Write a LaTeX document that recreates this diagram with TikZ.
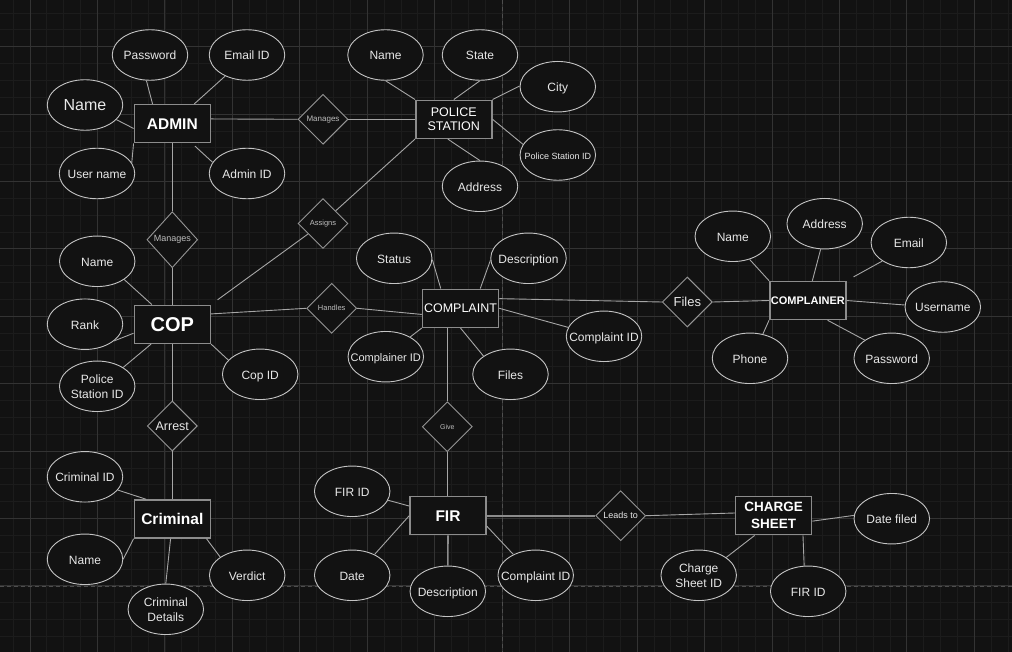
\documentclass[tikz,border=0pt]{standalone}
\usepackage{fontspec}
\setmainfont{Liberation Sans}
\usetikzlibrary{shapes.geometric}

\definecolor{bg}{HTML}{121212}
\definecolor{gridminor}{HTML}{1C1C1C}
\definecolor{gridmajor}{HTML}{333333}
\definecolor{pageline}{HTML}{4E4E4E}
\definecolor{ellstroke}{HTML}{C4C4C4}
\definecolor{entstroke}{HTML}{8C8C8C}
\definecolor{relstroke}{HTML}{959595}
\definecolor{linkc}{HTML}{A6A6A6}
\definecolor{txt}{HTML}{E8E8E8}
\definecolor{reltxt}{HTML}{BDBDBD}

\newcommand{\fs}[2]{\fontsize{#1}{#2}\selectfont}
% zero-width label so the ellipse keeps its fixed size
\newcommand{\zw}[1]{\makebox[0pt]{\raisebox{-2pt}[\height][\depth]{\begin{tabular}{@{}c@{}}#1\end{tabular}}}}

\tikzset{
  attr/.style={ellipse, draw=ellstroke, line width=0.9pt, fill=bg, text=txt,
    minimum width=75.5pt, minimum height=50.5pt, inner sep=0pt,
    font=\fs{12}{14.6}},
  entity/.style={rectangle, draw=entstroke, line width=1.5pt, fill=bg, text=white,
    minimum width=76pt, minimum height=38pt, inner sep=0pt, align=center},
  rel/.style={diamond, draw=relstroke, line width=0.9pt, fill=bg, text=reltxt,
    minimum width=50pt, minimum height=50pt, inner sep=0pt},
  link/.style={draw=linkc, line width=0.9pt},
  heavylink/.style={draw=entstroke, line width=1.6pt},
}

\begin{document}
\begin{tikzpicture}[x=1pt, y=-1pt]
\useasboundingbox (0,0) rectangle (1012,652);
\fill[bg] (0,0) rectangle (1012,652);

% background grid
\begin{scope}
  \clip (0,0) rectangle (1012,652);
  \foreach \k in {-1,...,58}
    \draw[gridminor, line width=0.8pt] ({30+16.8625*\k},0) -- ({30+16.8625*\k},652);
  \foreach \k in {-2,...,35}
    \draw[gridminor, line width=0.8pt] (0,{46.7+16.85*\k}) -- (1012,{46.7+16.85*\k});
  \foreach \k in {0,...,14}
    \draw[gridmajor, line width=0.9pt] ({30+67.45*\k},0) -- ({30+67.45*\k},652);
  \foreach \k in {0,...,9}
    \draw[gridmajor, line width=0.9pt] (0,{46.7+67.4*\k}) -- (1012,{46.7+67.4*\k});
  % page breaks
  \draw[pageline, line width=1pt, dash pattern=on 4pt off 3pt] (502.2,0) -- (502.2,652);
  \draw[pageline, line width=1pt, dash pattern=on 4pt off 3pt] (0,586.3) -- (1012,586.3);
\end{scope}

% ---------- ADMIN ----------
\node[entity, font=\fs{15.5}{18}\bfseries] (admin) at (172.3,123.7) {ADMIN};
\node[attr] (pw) at (150,55) {\zw{Password}};
\node[attr] (email) at (247,55) {\zw{Email ID}};
\node[attr, font=\fs{16}{19}] (aname) at (85,105) {\zw{Name}};
\node[attr] (uname) at (97,173.5) {\zw{User name}};
\node[attr] (adminid) at (247,173.5) {\zw{Admin ID}};

\node[rel, font=\fs{8}{10}] (mng1) at (323,119.3) {Manages};

% ---------- POLICE STATION ----------
\node[entity, font=\fs{12.5}{14.7}] (ps) at (453.8,119.3) {POLICE\\STATION};
\node[attr] (psname) at (385.5,55) {\zw{Name}};
\node[attr] (psstate) at (480,55) {\zw{State}};
\node[attr] (pscity) at (557.8,86.7) {\zw{City}};
\node[attr, font=\fs{9}{11}] (psid) at (557.8,155) {\zw{Police Station ID}};
\node[attr] (psaddr) at (480,186.3) {\zw{Address}};

\node[rel, font=\fs{7.5}{9}] (assigns) at (323,223.5) {Assigns};
\node[rel, font=\fs{9}{11}, minimum width=50.7pt, minimum height=56pt] (mng2) at (172.3,239.7) {Manages};

% ---------- COP ----------
\node[entity, font=\fs{20}{24}\bfseries] (cop) at (172.3,324.3) {COP};
\node[attr] (copname) at (97.2,261.3) {\zw{Name}};
\node[attr] (rank) at (85,324.2) {\zw{Rank}};
\node[attr] (coppsid) at (97.2,386.3) {\zw{Police\\Station ID}};
\node[attr] (copid) at (260.2,374.3) {\zw{Cop ID}};

\node[rel, font=\fs{7.5}{9}] (handles) at (331.7,308.3) {Handles};

% ---------- COMPLAINT ----------
\node[entity, font=\fs{12.5}{15}] (complaint) at (460.5,308.3) {COMPLAINT};
\node[attr] (status) at (394.2,258.3) {\zw{Status}};
\node[attr] (cdesc) at (528.5,258.3) {\zw{Description}};
\node[attr, font=\fs{11}{13}] (cmplrid) at (385.8,356.7) {\zw{Complainer ID}};
\node[attr] (cfiles) at (510.5,374.3) {\zw{Files}};
\node[attr] (cid) at (604,336.3) {\zw{Complaint ID}};

\node[rel, text=txt, font=\fs{13}{15}] (files) at (687.3,302) {Files};

% ---------- COMPLAINER ----------
\node[entity, font=\fs{11}{13}\bfseries] (complainer) at (807.8,300.5) {COMPLAINER};
\node[attr] (crname) at (732.8,236.3) {\zw{Name}};
\node[attr] (craddr) at (824.7,223.7) {\zw{Address}};
\node[attr] (cremail) at (908.8,242.5) {\zw{Email}};
\node[attr] (cruser) at (942.8,307) {\zw{Username}};
\node[attr] (crphone) at (750,358.3) {\zw{Phone}};
\node[attr] (crpw) at (891.7,358.3) {\zw{Password}};

\node[rel, text=txt, font=\fs{12.5}{15}] (arrest) at (172.3,426) {Arrest};

% ---------- CRIMINAL ----------
\node[entity, font=\fs{15.5}{18}\bfseries] (criminal) at (172.3,519) {Criminal};
\node[attr] (crimid) at (85,476.8) {\zw{Criminal ID}};
\node[attr] (crimname) at (85,559.3) {\zw{Name}};
\node[attr] (crimdet) at (165.8,609.3) {\zw{Criminal\\Details}};
\node[attr] (verdict) at (247.2,575.3) {\zw{Verdict}};

\node[rel, font=\fs{7}{9}] (give) at (447.3,426.7) {Give};

% ---------- FIR ----------
\node[entity, font=\fs{15.5}{18}\bfseries] (fir) at (448,515.7) {FIR};
\node[attr] (firid) at (352.2,491.3) {\zw{FIR ID}};
\node[attr] (date) at (352.2,575.3) {\zw{Date}};
\node[attr] (fdesc) at (447.8,591.3) {\zw{Description}};
\node[attr] (fcid) at (535.7,575.3) {\zw{Complaint ID}};

\node[rel, text=txt, font=\fs{9}{11}] (leads) at (620.7,515.7) {Leads to};

% ---------- CHARGE SHEET ----------
\node[entity, font=\fs{13.5}{16.7}\bfseries] (cs) at (773.7,515.7) {CHARGE\\SHEET};
\node[attr] (datefiled) at (891.8,518.7) {\zw{Date filed}};
\node[attr] (csid) at (698.7,575.3) {\zw{Charge\\Sheet ID}};
\node[attr] (csfir) at (808.2,591.3) {\zw{FIR ID}};

% ---------- connectors ----------
\draw[link] (pw.262) -- (admin.135);
\draw[link] (email.224) -- (admin.42);
\draw[link] (aname.335) -- (admin.187);
\draw[link] (uname.17) -- (admin.207);
\draw[link, shorten >=4pt] (adminid.162) -- (admin.315);
\draw[link] (admin.7) -- (mng1.west);
\draw[link] (mng1.east) -- (ps.west);

\draw[link] (psname.270) -- (ps.north west);
\draw[link] (psstate.270) -- (ps.north);
\draw[link] (pscity.179) -- (ps.north east);
\draw[link] (psid.163) -- (ps.east);
\draw[link] (psaddr.90) -- (ps.253);
\draw[link] (ps.south west) -- (assigns.45);
\draw[link, shorten >=8pt] (assigns.215) -- (cop.north east);

\draw[link] (admin.south) -- (mng2.north);
\draw[link] (mng2.south) -- (cop.north);
\draw[link] (copname.326) -- (cop.136);
\draw[link] (rank.330) -- (cop.193);
\draw[link] (coppsid.36) -- (cop.223);
\draw[link] (copid.156) -- (cop.south east);
\draw[link] (cop.15) -- (handles.west);
\draw[link] (handles.east) -- (complaint.189);

\draw[link] (status.358) -- (complaint.135);
\draw[link] (cdesc.183) -- (complaint.45);
\draw[link] (cmplrid.39) -- (complaint.south west);
\draw[link] (cfiles.146) -- (complaint.south);
\draw[link] (cid.166) -- (complaint.east);
\draw[link] (complaint.14) -- (files.west);
\draw[link] (files.east) -- (complainer.west);

\draw[link] (crname.306) -- (complainer.north west);
\draw[link] (craddr.261) -- (complainer.77);
\draw[link, shorten >=8pt] (cremail.215) -- (complainer.north east);
\draw[link] (cruser.177) -- (complainer.east);
\draw[link] (crphone.62) -- (complainer.south west);
\draw[link] (crpw.146) -- (complainer.315);

\draw[link] (cop.south) -- (arrest.north);
\draw[link] (arrest.south) -- (criminal.north);
\draw[link] (crimid.338) -- (criminal.143);
\draw[link] (crimname.0) -- (criminal.south west);
\draw[link] (crimdet.90) -- (criminal.265);
\draw[link] (verdict.146) -- (criminal.330);

\draw[link] (complaint.south -| give.north) -- (give.north);
\draw[link] (give.south) -- (give.south |- fir.north);

\draw[link] (firid.346) -- (fir.166);
\draw[link] (date.43) -- (fir.west);
\draw[heavylink] (fdesc.north) -- (fir.south);
\draw[link] (fcid.137) -- (fir.345);
\draw[heavylink] (fir.east) -- (leads.west);
\draw[link] (leads.east) -- (cs.176);

\draw[link] (datefiled.175) -- (cs.352);
\draw[link] (csid.33) -- (cs.226);
\draw[link] (csfir.99) -- (cs.326);
\end{tikzpicture}
\end{document}
